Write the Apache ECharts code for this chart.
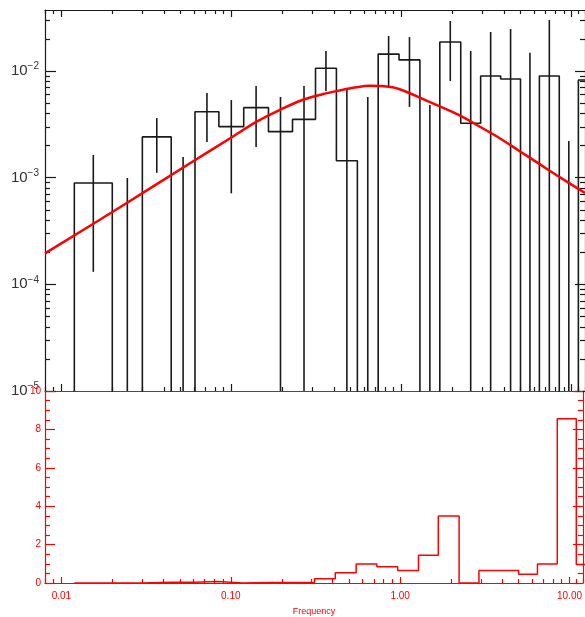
<!DOCTYPE html>
<html><head><meta charset="utf-8">
<script src="https://cdn.jsdelivr.net/npm/echarts@6/dist/echarts.min.js"></script>
<style>html,body{margin:0;padding:0;background:#fff}#c{width:585px;height:617px}</style>
</head><body><div id="c"></div>
<script>
// ---- data ----
const binEdges = [0.0119, 0.0199, 0.0299, 0.0442, 0.0610, 0.0843, 0.118, 0.165, 0.2285, 0.312, 0.414, 0.550, 0.729, 0.967, 1.283, 1.680, 2.230, 2.920, 3.830, 5.010, 6.470, 8.470, 10.97, 14.3];
const powerValues = [8.91e-4, 0, 2.41e-3, 0, 4.15e-3, 3.01e-3, 4.53e-3, 2.70e-3, 3.52e-3, 1.06e-2, 1.44e-3, 0, 1.44e-2, 1.27e-2, 0, 1.87e-2, 3.24e-3, 8.98e-3, 8.41e-3, 0, 8.98e-3, 0, 8.23e-3];
const errUpper = [1.63e-3, 9.93e-4, 3.62e-3, 1.56e-3, 6.22e-3, 5.34e-3, 7.23e-3, 5.70e-3, 7.23e-3, 1.54e-2, 6.64e-3, 5.70e-3, 2.13e-2, 2.08e-2, 4.80e-3, 2.94e-2, 1.54e-2, 2.32e-2, 2.48e-2, 1.48e-2, 3.01e-2, 2.21e-3, null];
const errLower = [1.31e-4, 0, 1.11e-3, 0, 2.16e-3, 7.13e-4, 1.94e-3, 0, 0, 6.49e-3, 0, 0, 7.23e-3, 4.60e-3, 0, 8.06e-3, 0, 0, 0, 0, 0, 0, null];
const ratioValues = [0, 0, 0.04, 0.04, 0.08, 0, 0.03, 0.03, 0.03, 0.22, 0.53, 0.99, 0.84, 0.65, 1.44, 3.49, 0, 0.65, 0.65, 0.45, 0.99, 8.56, 0.97];
const modelFreq = [0.008, 0.0222, 0.0570, 0.0977, 0.1406, 0.192, 0.261, 0.343, 0.431, 0.542, 0.646, 0.790, 0.967, 1.449, 2.17, 2.84, 3.72, 4.88, 6.39, 8.36, 12.0];
const modelPower = [1.95e-4, 5.31e-4, 1.365e-3, 2.33e-3, 3.35e-3, 4.31e-3, 5.35e-3, 6.05e-3, 6.56e-3, 7.03e-3, 7.26e-3, 7.19e-3, 6.78e-3, 5.15e-3, 3.87e-3, 3.05e-3, 2.38e-3, 1.80e-3, 1.36e-3, 1.03e-3, 7.18e-4];
const freqMajorTicks = [0.01, 0.1, 1, 10];
const freqMinorTicks = [0.008, 0.009, 0.02, 0.03, 0.04, 0.05, 0.06, 0.07, 0.08, 0.09, 0.2, 0.3, 0.4, 0.5, 0.6, 0.7, 0.8, 0.9, 2, 3, 4, 5, 6, 7, 8, 9, 11, 12];
const powerMajorTicks = [1e-5, 1e-4, 1e-3, 1e-2];
const powerMinorTicks = [2e-5, 3e-5, 4e-5, 5e-5, 6e-5, 7e-5, 8e-5, 9e-5, 2e-4, 3e-4, 4e-4, 5e-4, 6e-4, 7e-4, 8e-4, 9e-4, 2e-3, 3e-3, 4e-3, 5e-3, 6e-3, 7e-3, 8e-3, 9e-3, 2e-2, 3e-2];
const X_MIN = 0.008, X_MAX = 12, Y_MIN = 1e-5, Y_MAX = 0.0373;
const FLOOR = 1e-9; // drawing floor for empty bins (below the log axis, clipped)

// ---- build step paths from the bins ----
const histPts = [[binEdges[0], FLOOR]];
powerValues.forEach((v, i) => {
  const y = v > 0 ? v : FLOOR;
  histPts.push([binEdges[i], y], [binEdges[i + 1], y]);
});
const ratioPts = [[binEdges[0], 0]];
ratioValues.forEach((v, i) => { ratioPts.push([binEdges[i], v], [binEdges[i + 1], v]); });
const errData = [];
powerValues.forEach((v, i) => {
  if (errUpper[i] == null) return;
  errData.push([Math.sqrt(binEdges[i] * binEdges[i + 1]), errLower[i] > 0 ? errLower[i] : FLOOR, errUpper[i]]);
});
const modelPts = modelFreq.map((f, i) => [f, modelPower[i]]);

const BLACK = '#1a1a1a', RED = '#ff0000', FONT = 'Liberation Sans, Arial, sans-serif';
function xAxisDef(grid, pos, color, ticks, len, extra) {
  return Object.assign({
    type: 'log', logBase: 10, gridIndex: grid, position: pos, min: X_MIN, max: X_MAX,
    axisLine: {show: false, lineStyle: {color: color, width: 1.2}},
    axisTick: {show: true, inside: true, length: len, customValues: ticks, lineStyle: {color: color, width: 1.2}},
    axisLabel: {show: false}, splitLine: {show: false}, minorTick: {show: false}
  }, extra || {});
}
function yLogDef(pos, ticks, len, extra) {
  return Object.assign({
    type: 'log', logBase: 10, gridIndex: 0, position: pos, min: Y_MIN, max: Y_MAX,
    axisLine: {show: false, lineStyle: {color: BLACK, width: 1.2}},
    axisTick: {show: true, inside: true, length: len, customValues: ticks, lineStyle: {color: BLACK, width: 1.2}},
    axisLabel: {show: false}, splitLine: {show: false}
  }, extra || {});
}
function yLinDef(pos, labels) {
  return {
    type: 'value', gridIndex: 1, position: pos, min: 0, max: 10, interval: 2,
    axisLine: {show: true, lineStyle: {color: RED, width: 1.2}},
    axisTick: {show: true, inside: true, length: 10, lineStyle: {color: RED, width: 1.2}},
    minorTick: {show: true, splitNumber: 4, length: 5, lineStyle: {color: RED, width: 1.2}},
    axisLabel: {show: labels, color: RED, fontSize: 10, fontFamily: FONT, margin: 4},
    splitLine: {show: false}
  };
}

const chart = echarts.init(document.getElementById('c'), null, {renderer: 'canvas'});
chart.setOption({
  animation: false,
  backgroundColor: '#fff',
  grid: [
    {left: 45, top: 10, right: -2, height: 381},
    {left: 45, top: 391, right: -2, height: 196}
  ],
  xAxis: [
    xAxisDef(0, 'bottom', BLACK, freqMajorTicks, 7),
    xAxisDef(0, 'bottom', BLACK, freqMinorTicks, 4),
    xAxisDef(0, 'top', BLACK, freqMajorTicks, 7, {axisLine: {show: true, lineStyle: {color: BLACK, width: 1.2}}}),
    xAxisDef(0, 'top', BLACK, freqMinorTicks, 4),
    xAxisDef(1, 'bottom', RED, freqMajorTicks, 6, {
      axisLine: {show: true, lineStyle: {color: RED, width: 1.2}},
      axisLabel: {show: true, customValues: freqMajorTicks, color: RED, fontSize: 10, fontFamily: FONT, margin: 8,
                  formatter: v => Number(v).toFixed(2)},
      name: 'Frequency', nameLocation: 'middle', nameGap: 24,
      nameTextStyle: {color: RED, fontSize: 9, fontFamily: FONT}
    }),
    xAxisDef(1, 'bottom', RED, freqMinorTicks, 4),
    xAxisDef(1, 'top', RED, [], 0, {axisLine: {show: true, lineStyle: {color: RED, width: 1.2}}, axisTick: {show: false}})
  ],
  yAxis: [
    yLogDef('left', powerMajorTicks, 11, {
      axisLine: {show: true, lineStyle: {color: BLACK, width: 1.2}},
      axisLabel: {show: true, customValues: powerMajorTicks, color: '#333', fontSize: 15, fontFamily: FONT, margin: 6,
        formatter: v => '10{s|' + Math.round(Math.log10(v)).toString().replace('-', '−') + '}',
        rich: {s: {fontSize: 10, color: '#333', fontFamily: FONT, verticalAlign: 'top', padding: [0, 0, 9, 0]}}}
    }),
    yLogDef('left', powerMinorTicks, 5),
    yLogDef('right', powerMajorTicks, 10, {axisLine: {show: true, lineStyle: {color: BLACK, width: 1.2}}}),
    yLogDef('right', powerMinorTicks, 5),
    yLinDef('left', true),
    yLinDef('right', false)
  ],
  series: [
    {type: 'line', xAxisIndex: 0, yAxisIndex: 0, data: histPts, symbol: 'none', clip: true,
     lineStyle: {color: BLACK, width: 1.6}},
    {type: 'custom', xAxisIndex: 0, yAxisIndex: 0, data: errData, clip: true,
     renderItem: function (params, api) {
       const cs = params.coordSys;
       const top = api.coord([api.value(0), api.value(2)]);
       const bot = api.coord([api.value(0), api.value(1)]);
       const y1 = Math.max(cs.y, top[1]);
       const y2 = Math.min(cs.y + cs.height, bot[1]);
       return {type: 'line', shape: {x1: top[0], y1: y1, x2: top[0], y2: y2},
               style: {stroke: BLACK, lineWidth: 1.6}};
     }},
    {type: 'line', xAxisIndex: 0, yAxisIndex: 0, data: modelPts, symbol: 'none', smooth: 0.35, clip: true,
     lineStyle: {color: RED, width: 2.5}, z: 5},
    {type: 'line', xAxisIndex: 4, yAxisIndex: 4, data: ratioPts, symbol: 'none', clip: true,
     lineStyle: {color: RED, width: 1.5}}
  ]
});
</script>
</body></html>
